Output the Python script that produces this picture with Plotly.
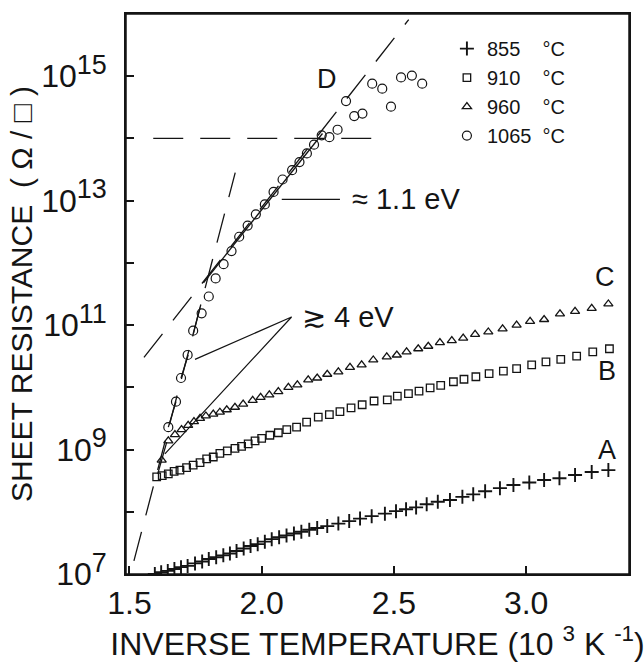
import plotly.graph_objects as go

# ---------------- data (x = 1000/T in 10^3 K^-1, y = log10 of sheet resistance in ohm/sq) ----------------
inv_T_855 = [1.596, 1.620, 1.645, 1.670, 1.695, 1.720, 1.748, 1.775, 1.800, 1.828,
             1.855, 1.880, 1.905, 1.932, 1.958, 1.985, 2.012, 2.038, 2.066, 2.094,
             2.122, 2.150, 2.180, 2.210, 2.248, 2.290, 2.331, 2.372, 2.416, 2.466,
             2.508, 2.546, 2.584, 2.624, 2.666, 2.712, 2.759, 2.800, 2.845, 2.901,
             2.952, 3.012, 3.068, 3.126, 3.185, 3.248, 3.311]
logR_855 = [7.00, 7.03, 7.05, 7.08, 7.11, 7.13, 7.17, 7.20, 7.24, 7.27,
            7.30, 7.33, 7.37, 7.41, 7.45, 7.48, 7.52, 7.56, 7.59, 7.62,
            7.65, 7.68, 7.71, 7.74, 7.77, 7.81, 7.85, 7.89, 7.93, 7.97,
            8.01, 8.04, 8.07, 8.12, 8.16, 8.19, 8.24, 8.28, 8.33, 8.38,
            8.43, 8.47, 8.51, 8.54, 8.59, 8.64, 8.67]

inv_T_910 = [1.603, 1.624, 1.647, 1.669, 1.691, 1.716, 1.741, 1.767, 1.792, 1.817,
             1.842, 1.870, 1.899, 1.924, 1.949, 1.975, 2.000, 2.031, 2.063, 2.095,
             2.132, 2.170, 2.214, 2.256, 2.296, 2.338, 2.380, 2.425, 2.475, 2.513,
             2.555, 2.595, 2.637, 2.677, 2.725, 2.765, 2.810, 2.860, 2.914, 2.964,
             3.021, 3.075, 3.131, 3.191, 3.252, 3.315]
logR_910 = [8.56, 8.58, 8.61, 8.65, 8.67, 8.71, 8.75, 8.79, 8.85, 8.88,
            8.94, 8.98, 9.02, 9.05, 9.09, 9.14, 9.18, 9.23, 9.27, 9.32,
            9.36, 9.44, 9.52, 9.56, 9.61, 9.67, 9.72, 9.78, 9.80, 9.86,
            9.90, 9.94, 9.99, 10.03, 10.09, 10.13, 10.17, 10.22, 10.26, 10.30,
            10.36, 10.41, 10.45, 10.50, 10.57, 10.62]

inv_T_960 = [1.622, 1.647, 1.672, 1.697, 1.722, 1.744, 1.767, 1.789, 1.817, 1.842,
             1.868, 1.899, 1.930, 1.966, 1.996, 2.029, 2.063, 2.101, 2.135, 2.176,
             2.210, 2.248, 2.290, 2.334, 2.378, 2.422, 2.473, 2.511, 2.548, 2.592,
             2.630, 2.674, 2.719, 2.762, 2.807, 2.857, 2.911, 2.964, 3.015, 3.068,
             3.128, 3.185, 3.248, 3.311]
logR_960 = [8.83, 9.14, 9.24, 9.32, 9.39, 9.45, 9.50, 9.54, 9.57, 9.60,
            9.64, 9.68, 9.73, 9.79, 9.84, 9.88, 9.93, 10.00, 10.04, 10.12,
            10.15, 10.21, 10.25, 10.32, 10.36, 10.44, 10.49, 10.52, 10.57, 10.62,
            10.66, 10.72, 10.75, 10.79, 10.85, 10.89, 10.94, 11.00, 11.06, 11.09,
            11.18, 11.22, 11.27, 11.34]

inv_T_1065 = [1.647, 1.676, 1.695, 1.720, 1.741, 1.773, 1.800, 1.826, 1.856, 1.886,
              1.915, 1.947, 1.978, 2.012, 2.045, 2.079, 2.115, 2.143, 2.171, 2.198,
              2.227, 2.256, 2.287, 2.319, 2.350, 2.381, 2.418, 2.456, 2.489, 2.527,
              2.568, 2.607]
logR_1065 = [9.36, 9.77, 10.15, 10.52, 10.91, 11.19, 11.46, 11.75, 11.98, 12.19,
             12.42, 12.60, 12.78, 12.94, 13.14, 13.34, 13.49, 13.62, 13.76, 13.90,
             14.05, 14.02, 14.14, 14.60, 14.36, 14.40, 14.88, 14.80, 14.51, 14.98,
             15.01, 14.88]

series_names = ["855&nbsp;&nbsp;&nbsp;&nbsp;°C", "910&nbsp;&nbsp;&nbsp;&nbsp;°C",
                "960&nbsp;&nbsp;&nbsp;&nbsp;°C", "1065&nbsp;&nbsp;°C"]
curve_labels = ["A", "B", "C", "D"]
curve_label_x = [3.305, 3.305, 3.298, 2.246]
curve_label_logR = [8.99, 10.26, 11.78, 14.96]

# fitted / guide lines
steep_x, steep_logR = [1.517, 1.900], [7.21, 13.45]
ev11_x, ev11_logR = [1.555, 2.556], [10.48, 15.91]
ev11_fit_x, ev11_fit_logR = [1.78, 2.23], [11.68, 14.08]
h14_x, h14_logR = [1.590, 2.454], [14.0, 14.0]
ev4_x = [1.607, 1.641, None, 1.647, 1.676, None, 1.695, 1.722, None, 1.739, 1.767]
ev4_logR = [8.61, 9.12, None, 9.36, 9.77, None, 10.15, 10.52, None, 10.82, 11.28]
lead4_x, lead4_logR = [1.748, 2.113, 1.634], [10.45, 11.13, 8.93]
lead11_x, lead11_logR = [2.076, 2.296], [13.02, 13.02]
label4 = ("≳ 4 eV", 2.145, 11.13)
label11 = ("≈ 1.1 eV", 2.335, 13.02)

x_ticks = [1.5, 2.0, 2.5, 3.0]
x_ticktext = ["1.5", "2.0", "2.5", "3.0"]
y_label_exps = [7, 9, 11, 13, 15]
y_minor_exps = [8, 10, 12, 14]

# ---------------- figure ----------------
INK = "#141414"
FONT = "Liberation Sans, Arial, Helvetica, sans-serif"


def pw(vals):
    return [None if v is None else 10 ** v for v in vals]


fig = go.Figure()

line_style = dict(color=INK, width=1.3)
dash_style = dict(color=INK, width=1.3, dash="30px,17px")

fig.add_trace(go.Scatter(x=steep_x, y=pw(steep_logR), mode="lines", line=dash_style,
                         showlegend=False, hoverinfo="skip"))
fig.add_trace(go.Scatter(x=ev11_x, y=pw(ev11_logR), mode="lines", line=dash_style,
                         showlegend=False, hoverinfo="skip"))
fig.add_trace(go.Scatter(x=h14_x, y=pw(h14_logR), mode="lines", line=dash_style,
                         showlegend=False, hoverinfo="skip"))
fig.add_trace(go.Scatter(x=ev11_fit_x, y=pw(ev11_fit_logR), mode="lines", line=line_style,
                         showlegend=False, hoverinfo="skip"))
fig.add_trace(go.Scatter(x=ev4_x, y=pw(ev4_logR), mode="lines", line=line_style,
                         showlegend=False, hoverinfo="skip", connectgaps=False))
fig.add_trace(go.Scatter(x=lead4_x, y=pw(lead4_logR), mode="lines", line=dict(color=INK, width=1.2),
                         showlegend=False, hoverinfo="skip"))
fig.add_trace(go.Scatter(x=lead11_x, y=pw(lead11_logR), mode="lines", line=dict(color=INK, width=1.2),
                         showlegend=False, hoverinfo="skip"))

fig.add_trace(go.Scatter(x=inv_T_855, y=pw(logR_855), mode="markers", name=series_names[0],
                         marker=dict(symbol="cross-thin", size=10, color=INK,
                                     line=dict(color=INK, width=1.9))))
fig.add_trace(go.Scatter(x=inv_T_910, y=pw(logR_910), mode="markers", name=series_names[1],
                         marker=dict(symbol="square-open", size=7.5, color=INK,
                                     line=dict(color=INK, width=1.3))))
fig.add_trace(go.Scatter(x=inv_T_960, y=pw(logR_960), mode="markers", name=series_names[2],
                         marker=dict(symbol="triangle-up-open", size=8, color=INK,
                                     line=dict(color=INK, width=1.3))))
fig.add_trace(go.Scatter(x=inv_T_1065, y=pw(logR_1065), mode="markers", name=series_names[3],
                         marker=dict(symbol="circle-open", size=9, color=INK,
                                     line=dict(color=INK, width=1.2))))

annotations = []
for lab, lx, ly in zip(curve_labels, curve_label_x, curve_label_logR):
    annotations.append(dict(x=lx, y=ly, xref="x", yref="y", text=lab, showarrow=False,
                            font=dict(size=27, color=INK, family=FONT)))
for txt, lx, ly in (label4, label11):
    annotations.append(dict(x=lx, y=ly, xref="x", yref="y", text=txt, showarrow=False,
                            xanchor="left", font=dict(size=29, color=INK, family=FONT)))

y_ticktext = ['10<sup><span style="font-size:27px">%d</span></sup>' % e for e in y_label_exps]

fig.update_layout(
    width=644, height=666,
    margin=dict(l=126, r=15, t=13, b=91),
    paper_bgcolor="white", plot_bgcolor="white",
    font=dict(family=FONT, color=INK),
    annotations=annotations,
    shapes=[dict(type="rect", xref="paper", yref="paper", x0=0, y0=0, x1=1, y1=1,
                 line=dict(color=INK, width=1.5), layer="above")],
    legend=dict(x=0.638, y=0.973, xanchor="left", yanchor="top",
                font=dict(size=20, color=INK, family=FONT),
                bgcolor="rgba(0,0,0,0)", tracegroupgap=0, itemwidth=30),
    xaxis=dict(range=[1.487, 3.389], tickvals=x_ticks, ticktext=x_ticktext,
               ticks="inside", ticklen=8, tickwidth=1.5, tickcolor=INK,
               showline=True, linecolor=INK, linewidth=1.5, mirror=True,
               showgrid=False, zeroline=False,
               tickfont=dict(size=32, family=FONT, color=INK),
               title=dict(text="INVERSE TEMPERATURE (10 <sup>3</sup> K <sup>-1</sup>)",
                          font=dict(size=32, family=FONT, color=INK), standoff=10)),
    yaxis=dict(type="log", range=[7, 16], tickvals=[10 ** e for e in y_label_exps], ticktext=y_ticktext,
               ticks="inside", ticklen=8, tickwidth=1.5, tickcolor=INK,
               minor=dict(tickvals=[10 ** e for e in y_minor_exps], ticks="inside", ticklen=8,
                          tickwidth=1.5, tickcolor=INK, showgrid=False),
               showline=True, linecolor=INK, linewidth=1.5, mirror=True,
               showgrid=False, zeroline=False, ticklabelstandoff=11,
               tickfont=dict(size=32, family=FONT, color=INK),
               title=dict(text="SHEET RESISTANCE&nbsp;&nbsp;(&nbsp;Ω&nbsp;/&nbsp;□&nbsp;)",
                          font=dict(size=30, family=FONT, color=INK), standoff=0)),
)

fig.write_html("out.html", config={"displayModeBar": False},
               post_script="document.body.style.margin='0';")
